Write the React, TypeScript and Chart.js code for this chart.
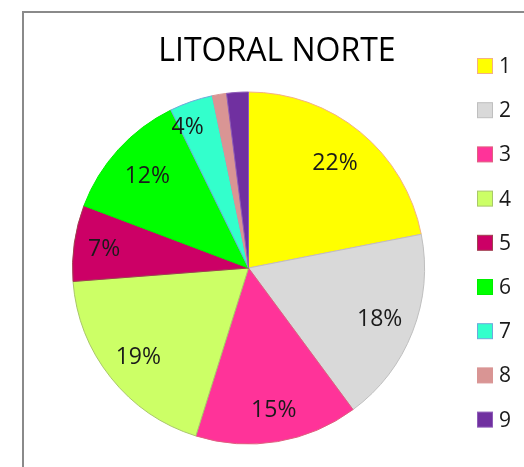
import React, { useEffect, useRef } from "react";
import { Chart, registerables } from "chart.js";

Chart.register(...registerables);

const TITLE = "LITORAL NORTE";
const categories = ["1", "2", "3", "4", "5", "6", "7", "8", "9"];
const values = [22, 18, 15, 19, 7, 12, 4, 1.3, 2];
const fillColors = [
  "#FFFF00",
  "#D9D9D9",
  "#FF3399",
  "#CCFF66",
  "#CC0066",
  "#00FF00",
  "#33FFCC",
  "#D99594",
  "#7030A0",
];
const edgeColors = [
  "#F4B183",
  "#BFBFBF",
  "#E0607F",
  "#A9C76A",
  "#A0404F",
  "#00EE00",
  "#6FA8DC",
  "#D99594",
  "#8E5CB8",
];
// small style nudges for label placement (pixels, relative to the computed spot)
const labelNudge: [number, number][] = [
  [-3, 2],
  [0, -2],
  [2, 2],
  [0, 0],
  [-5, -1],
  [3, 1],
  [-15, -9],
  [0, 0],
  [0, 0],
];

const FONT = "'Open Sans', 'Noto Sans', sans-serif";

const decorPlugin = {
  id: "decor",
  beforeDraw(chart: any) {
    const ctx = chart.ctx;
    ctx.save();
    ctx.fillStyle = "#ffffff";
    ctx.fillRect(0, 0, chart.width, chart.height);
    ctx.strokeStyle = "#8a8a8a";
    ctx.lineWidth = 2;
    ctx.beginPath();
    ctx.moveTo(23, chart.height);
    ctx.lineTo(23, 12);
    ctx.lineTo(chart.width, 12);
    ctx.stroke();
    ctx.restore();
  },
  afterDraw(chart: any) {
    const ctx = chart.ctx;
    ctx.save();
    // title
    ctx.fillStyle = "#000000";
    ctx.font = `32px ${FONT}`;
    ctx.textAlign = "center";
    ctx.textBaseline = "alphabetic";
    ctx.fillText(TITLE, 277, 61);

    // percentage labels
    const meta = chart.getDatasetMeta(0);
    const data = chart.data.datasets[0].data as number[];
    const total = data.reduce((a, b) => a + b, 0);
    ctx.font = `23px ${FONT}`;
    ctx.fillStyle = "#1a1a1a";
    ctx.textBaseline = "alphabetic";
    meta.data.forEach((arc: any, i: number) => {
      const pct = (data[i] / total) * 100;
      if (pct < 3) return;
      const p = arc.getProps(["x", "y", "startAngle", "endAngle", "outerRadius"], true);
      const mid = (p.startAngle + p.endAngle) / 2;
      const r = p.outerRadius * 0.8;
      const n = labelNudge[i] || [0, 0];
      ctx.fillText(
        Math.round(pct) + "%",
        p.x + Math.cos(mid) * r + n[0],
        p.y + Math.sin(mid) * r + 8.5 + n[1]
      );
    });

    // legend
    const labels = chart.data.labels as string[];
    const bg = chart.data.datasets[0].backgroundColor as string[];
    const bc = chart.data.datasets[0].borderColor as string[];
    ctx.font = `21px ${FONT}`;
    ctx.textAlign = "left";
    ctx.textBaseline = "middle";
    labels.forEach((lab, i) => {
      const cy = 66 + i * 44.2;
      ctx.fillStyle = bg[i];
      ctx.fillRect(477.5, cy - 7.5, 15, 15);
      ctx.strokeStyle = bc[i];
      ctx.lineWidth = 1;
      ctx.strokeRect(477.5, cy - 7.5, 15, 15);
      ctx.fillStyle = "#1a1a1a";
      ctx.fillText(lab, 499, cy + 1);
    });
    ctx.restore();
  },
};

export default function App() {
  const ref = useRef<HTMLCanvasElement | null>(null);
  useEffect(() => {
    if (!ref.current) return;
    const chart = new Chart(ref.current, {
      type: "pie",
      data: {
        labels: categories,
        datasets: [
          {
            data: values,
            backgroundColor: fillColors,
            borderColor: edgeColors,
            borderWidth: 1,
          },
        ],
      },
      options: {
        responsive: false,
        animation: false,
        layout: { padding: { left: 72, right: 99, top: 91, bottom: 22 } },
        plugins: {
          legend: { display: false },
          title: { display: false },
          tooltip: { enabled: false },
        },
      },
      plugins: [decorPlugin],
    });
    return () => chart.destroy();
  }, []);
  return (
    <div style={{ position: "fixed", left: 0, top: 0, width: 524, height: 467, background: "#fff" }}>
      <canvas ref={ref} width={524} height={467} style={{ width: 524, height: 467, display: "block" }} />
    </div>
  );
}
